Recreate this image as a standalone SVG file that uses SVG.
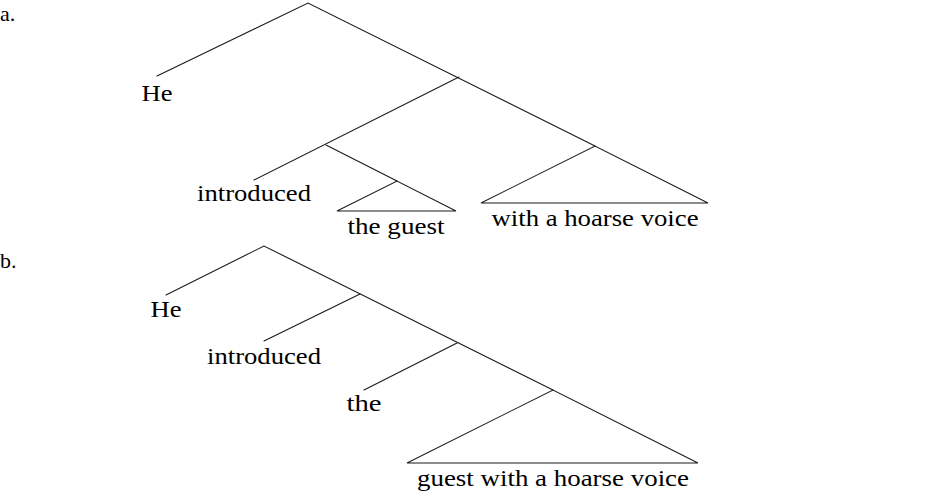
<svg xmlns="http://www.w3.org/2000/svg" width="940" height="495" viewBox="0 0 940 495">
<style>
.e{stroke:#1a1a1a;stroke-width:1.1;fill:none;stroke-linecap:round}
.t{font-family:'Liberation Serif','DejaVu Serif',serif;font-size:24px;fill:#000;text-anchor:middle}
.l{font-family:'Liberation Serif','DejaVu Serif',serif;font-size:22px;fill:#000}
</style>
<rect width="940" height="495" fill="#fff"/>
<text class="l" x="0" y="21">a.</text>
<text class="l" x="0" y="268">b.</text>
<g id="connectors">
<path class="e" d="M157,76 L308,3 L595,146"/>
<path class="e" d="M254,180 L459,77"/>
<path class="e" d="M326,145 L397,181"/>
<path class="e" d="M337,211 L397,181 L456,211 Z"/>
<path class="e" d="M481,203 L595,146 L708,203 Z"/>
<path class="e" d="M166,295 L264,246 L553,390"/>
<path class="e" d="M264,341 L360,294"/>
<path class="e" d="M364,390 L457,343"/>
<path class="e" d="M407,463 L553,390 L698,463 Z"/>
</g>
<g id="a-he"><text class="t" x="157" y="101" textLength="31" lengthAdjust="spacingAndGlyphs">He</text></g>
<g id="a-introduced"><text class="t" x="254" y="201" textLength="114" lengthAdjust="spacingAndGlyphs">introduced</text></g>
<g id="a-theguest"><text class="t" x="396" y="234" textLength="97" lengthAdjust="spacingAndGlyphs">the guest</text></g>
<g id="a-with"><text class="t" x="595" y="226" textLength="207" lengthAdjust="spacingAndGlyphs">with a hoarse voice</text></g>
<g id="b-he"><text class="t" x="166" y="317" textLength="31" lengthAdjust="spacingAndGlyphs">He</text></g>
<g id="b-introduced"><text class="t" x="264" y="364" textLength="114" lengthAdjust="spacingAndGlyphs">introduced</text></g>
<g id="b-the"><text class="t" x="364" y="411" textLength="35" lengthAdjust="spacingAndGlyphs">the</text></g>
<g id="b-guest"><text class="t" x="553" y="486" textLength="272" lengthAdjust="spacingAndGlyphs">guest with a hoarse voice</text></g>
</svg>
